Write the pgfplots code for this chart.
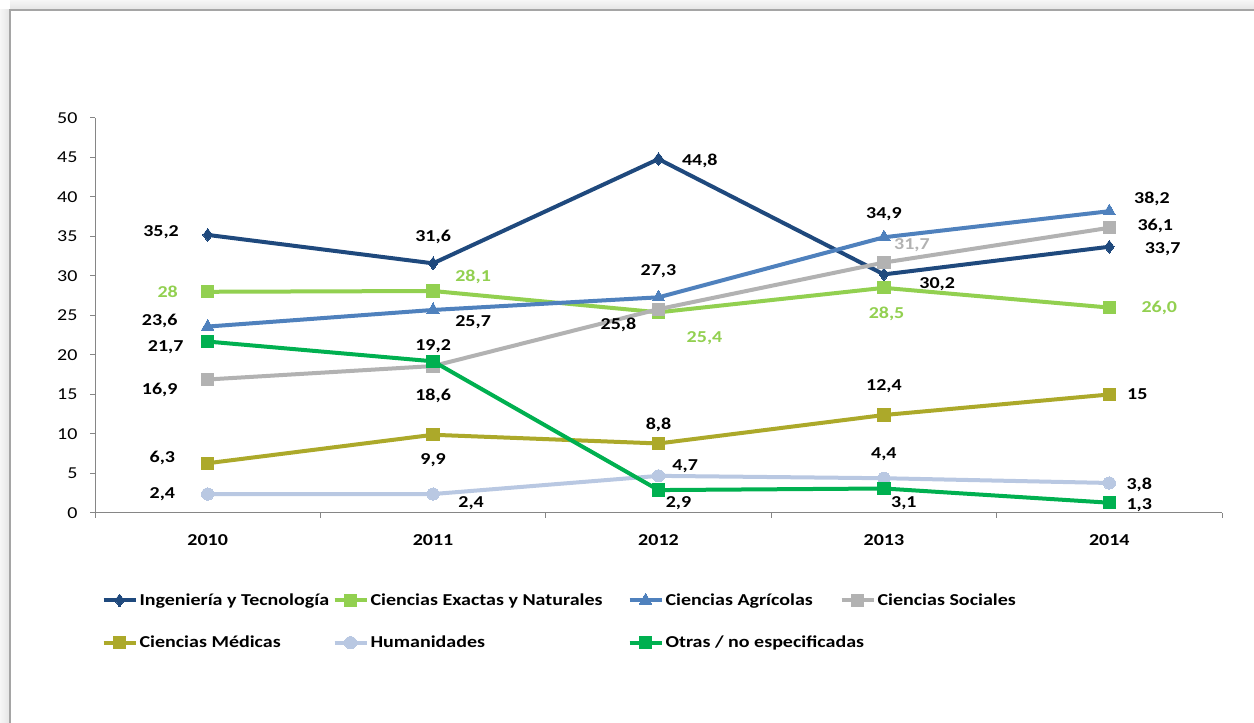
\documentclass[border=0pt]{standalone}
\usepackage{pgfplots}
\pgfplotsset{compat=1.18}
\usepackage{fontspec}
\setmainfont{Carlito}[FakeStretch=1.2]
\definecolor{cIng}{RGB}{31,73,125}
\definecolor{cExa}{RGB}{146,208,80}
\definecolor{cAgr}{RGB}{79,129,189}
\definecolor{cSoc}{RGB}{178,178,178}
\definecolor{cMed}{RGB}{172,169,42}
\definecolor{cHum}{RGB}{185,200,226}
\definecolor{cOtr}{RGB}{0,176,80}
\definecolor{cAxis}{RGB}{134,134,134}
\newcommand{\lbl}[6]{\node[font=\bfseries, text=#6, inner sep=0pt, xshift=#3pt, yshift=#4pt] at (axis cs:#1,#2) {#5};}
\begin{document}
\fontsize{12.5pt}{15pt}\selectfont
\begin{tikzpicture}
\useasboundingbox (0pt,0pt) rectangle (940.5pt,542.25pt);
\fill[white] (0pt,0pt) rectangle (940.5pt,542.25pt);
\shade[bottom color={rgb,255:red,228;green,228;blue,228}, top color={rgb,255:red,246;green,246;blue,246}] (7.5pt,534.75pt) rectangle (940.5pt,542.25pt);
\shade[right color={rgb,255:red,228;green,228;blue,228}, left color={rgb,255:red,246;green,246;blue,246}] (0pt,0pt) rectangle (7.5pt,534.75pt);
\draw[color={rgb,255:red,165;green,165;blue,165}, line width=0.9pt] (7.5pt,0pt) -- (7.5pt,534.75pt) -- (940.5pt,534.75pt);
\begin{axis}[
  at={(71.25pt,157.5pt)}, anchor=south west,
  scale only axis, width=845.25pt, height=296.25pt,
  xmin=-0.5, xmax=4.5, ymin=0, ymax=50,
  axis x line*=bottom, axis y line*=left,
  axis line style={cAxis, line width=0.75pt},
  xtick={0,1,2,3,4}, xticklabels={2010,2011,2012,2013,2014},
  minor xtick={-0.5,0.5,1.5,2.5,3.5,4.5},
  major x tick style={draw=none},
  ytick={0,5,...,50},
  tick align=outside,
  major tick length=3.75pt, minor tick length=3.75pt,
  tick style={cAxis, line width=0.75pt},
  /pgf/number format/assume math mode=true,
  x tick label style={font=\bfseries, yshift=-8pt},
  y tick label style={xshift=-5pt},
  clip=false,
  every axis plot/.append style={line width=3pt, mark options={solid, line width=0pt}},
  legend image code/.code={\draw[#1, mark repeat=2, mark phase=2] plot coordinates {(0pt,0pt)(12pt,0pt)(24pt,0pt)};},
  legend style={at={(0.0056,-0.2025)}, anchor=north west, draw=none, fill=none,
    inner sep=0pt, font=\bfseries, legend columns=4,
    nodes={inner sep=0pt, anchor=west},
    row sep=21pt,
    /tikz/every odd column/.append style={column sep=1.5pt}},
  legend cell align=left,
]
\addplot[cIng, mark=diamond*, mark size=4.8pt] coordinates {(0,35.2)(1,31.6)(2,44.8)(3,30.2)(4,33.7)};
\addlegendentry{\makebox[144.75pt][l]{Ingeniería y Tecnología}}
\addplot[cExa, mark=square*, mark size=4.6pt] coordinates {(0,28)(1,28.1)(2,25.4)(3,28.5)(4,26.0)};
\addlegendentry{\makebox[192.75pt][l]{Ciencias Exactas y Naturales}}
\addplot[cAgr, mark=triangle*, mark size=5.4pt] coordinates {(0,23.6)(1,25.7)(2,27.3)(3,34.9)(4,38.2)};
\addlegendentry{\makebox[130.5pt][l]{Ciencias Agrícolas}}
\addplot[cSoc, mark=square*, mark size=4.6pt] coordinates {(0,16.9)(1,18.6)(2,25.8)(3,31.7)(4,36.1)};
\addlegendentry{Ciencias Sociales}
\addplot[cMed, mark=square*, mark size=4.6pt] coordinates {(0,6.3)(1,9.9)(2,8.8)(3,12.4)(4,15)};
\addlegendentry{\makebox[144.75pt][l]{Ciencias Médicas}}
\addplot[cHum, mark=*, mark size=4.6pt] coordinates {(0,2.4)(1,2.4)(2,4.7)(3,4.4)(4,3.8)};
\addlegendentry{\makebox[192.75pt][l]{Humanidades}}
\addplot[cOtr, mark=square*, mark size=4.6pt] coordinates {(0,21.7)(1,19.2)(2,2.9)(3,3.1)(4,1.3)};
\addlegendentry{\makebox[130.5pt][l]{Otras / no especificadas}}
% labels: Ingenieria
\lbl{0}{35.2}{-35}{2}{35,2}{black}
\lbl{1}{31.6}{0}{20}{31,6}{black}
\lbl{2}{44.8}{31}{-1.5}{44,8}{black}
\lbl{3}{30.2}{40}{-7}{30,2}{black}
\lbl{4}{33.7}{40}{-2}{33,7}{black}
% Exactas
\lbl{0}{28}{-30}{0}{28}{cExa}
\lbl{1}{28.1}{30}{10.5}{28,1}{cExa}
\lbl{2}{25.4}{34.5}{-19.5}{25,4}{cExa}
\lbl{3}{28.5}{2}{-19.5}{28,5}{cExa}
\lbl{4}{26.0}{37.5}{0}{26,0}{cExa}
% Agricolas
\lbl{0}{23.6}{-36}{4}{23,6}{black}
\lbl{1}{25.7}{30}{-9}{25,7}{black}
\lbl{2}{27.3}{0}{19.5}{27,3}{black}
\lbl{3}{34.9}{0}{17}{34,9}{black}
\lbl{4}{38.2}{32}{9}{38,2}{black}
% Sociales
\lbl{0}{16.9}{-36}{-7.5}{16,9}{black}
\lbl{1}{18.6}{0}{-22}{18,6}{black}
\lbl{2}{25.8}{-30}{-12}{25,8}{black}
\lbl{3}{31.7}{21}{13}{31,7}{cSoc}
\lbl{4}{36.1}{34.5}{1.5}{36,1}{black}
% Medicas
\lbl{0}{6.3}{-34}{4}{6,3}{black}
\lbl{1}{9.9}{0}{-19}{9,9}{black}
\lbl{2}{8.8}{0}{14}{8,8}{black}
\lbl{3}{12.4}{0}{22}{12,4}{black}
\lbl{4}{15}{21}{0}{15}{black}
% Humanidades
\lbl{0}{2.4}{-34}{0}{2,4}{black}
\lbl{1}{2.4}{28.5}{-7}{2,4}{black}
\lbl{2}{4.7}{20}{7.5}{4,7}{black}
\lbl{3}{4.4}{0}{18}{4,4}{black}
\lbl{4}{3.8}{22.5}{-1.5}{3,8}{black}
% Otras
\lbl{0}{21.7}{-31.5}{-4.5}{21,7}{black}
\lbl{1}{19.2}{0}{11}{19,2}{black}
\lbl{2}{2.9}{15}{-10}{2,9}{black}
\lbl{3}{3.1}{15}{-11}{3,1}{black}
\lbl{4}{1.3}{22.5}{-1.5}{1,3}{black}
\end{axis}
\end{tikzpicture}
\end{document}
